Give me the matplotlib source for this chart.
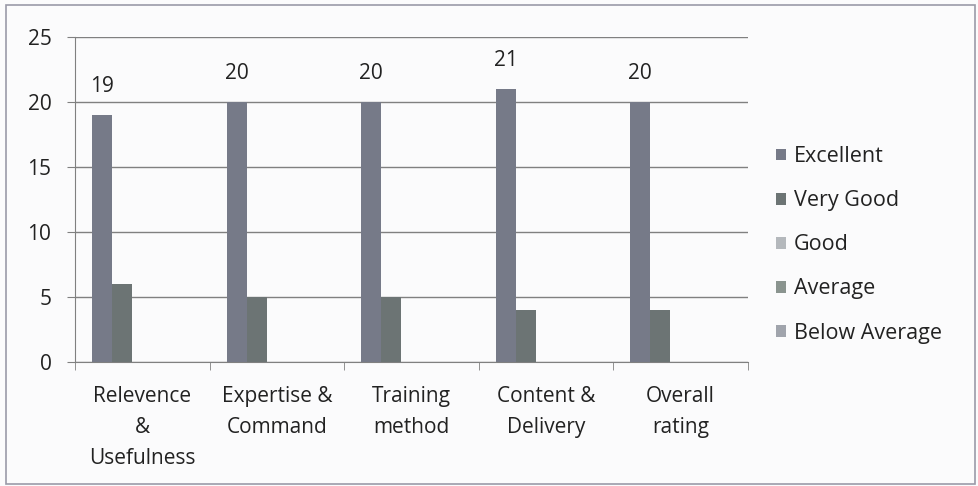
import numpy as np
import matplotlib.pyplot as plt
from matplotlib.patches import Rectangle

plt.rcParams['font.family'] = ['Open Sans', 'DejaVu Sans']

categories = ['Relevence\n&\nUsefulness', 'Expertise &\nCommand', 'Training\nmethod',
              'Content &\nDelivery', 'Overall\nrating']
series = ['Excellent', 'Very Good', 'Good', 'Average', 'Below Average']
excellent = [19, 20, 20, 21, 20]
very_good = [6, 5, 5, 4, 4]
good = [0, 0, 0, 0, 0]
average = [0, 0, 0, 0, 0]
below_average = [0, 0, 0, 0, 0]
values = [excellent, very_good, good, average, below_average]
colors = ['#767a88', '#6c7474', '#b4b8bc', '#8a948f', '#a0a4ac']

fig = plt.figure(figsize=(9.79, 4.86), dpi=100)
fig.patch.set_facecolor('#fbfbfc')
ax = fig.add_axes([0.0766, 0.255, 0.687, 0.669])
ax.set_facecolor('#fbfbfc')

x = np.arange(len(categories))
w = 0.149
for i, (name, vals) in enumerate(zip(series, values)):
    pos = x + (i - 2) * w
    ax.bar(pos, vals, width=w, color=colors[i], label=name, zorder=3)
    if i == 0:
        # data labels only on the Excellent series
        for p, v in zip(pos, vals):
            ax.annotate(str(v), (p, v), xytext=(0, 20.5), textcoords='offset points',
                        ha='center', va='center', fontsize=15, color='#222222')

ax.set_xlim(-0.5, len(categories) - 0.5)
ax.set_ylim(0, 25)
ax.set_yticks(range(0, 26, 5))
ax.yaxis.grid(True, color='#808080', linewidth=1.0, zorder=0)
ax.tick_params(axis='y', length=6, color='#808080', labelsize=15, labelcolor='#222222', pad=11)
ax.set_xticks(x)
ax.set_xticklabels(categories, fontsize=15, color='#222222', linespacing=1.62)
ax.tick_params(axis='x', length=0, pad=17)
ax.set_xticks(np.arange(-0.5, len(categories)), minor=True)
ax.tick_params(axis='x', which='minor', length=6, color='#808080')
for s in ['top', 'right']:
    ax.spines[s].set_visible(False)
ax.spines['left'].set_color('#808080')
ax.spines['bottom'].set_color('#808080')

fig.legend(loc='center left', bbox_to_anchor=(0.793, 0.496), frameon=False, fontsize=15.5,
           handlelength=0.45, handleheight=0.45, handletextpad=0.35, labelspacing=1.07,
           labelcolor='#222222', borderaxespad=0, borderpad=0)

fig.patches.append(Rectangle((0.006, 0.004), 0.99, 0.985, transform=fig.transFigure,
                             fill=False, edgecolor='#9a9aa8', linewidth=1.2))

fig.savefig('out.png', dpi=100)
